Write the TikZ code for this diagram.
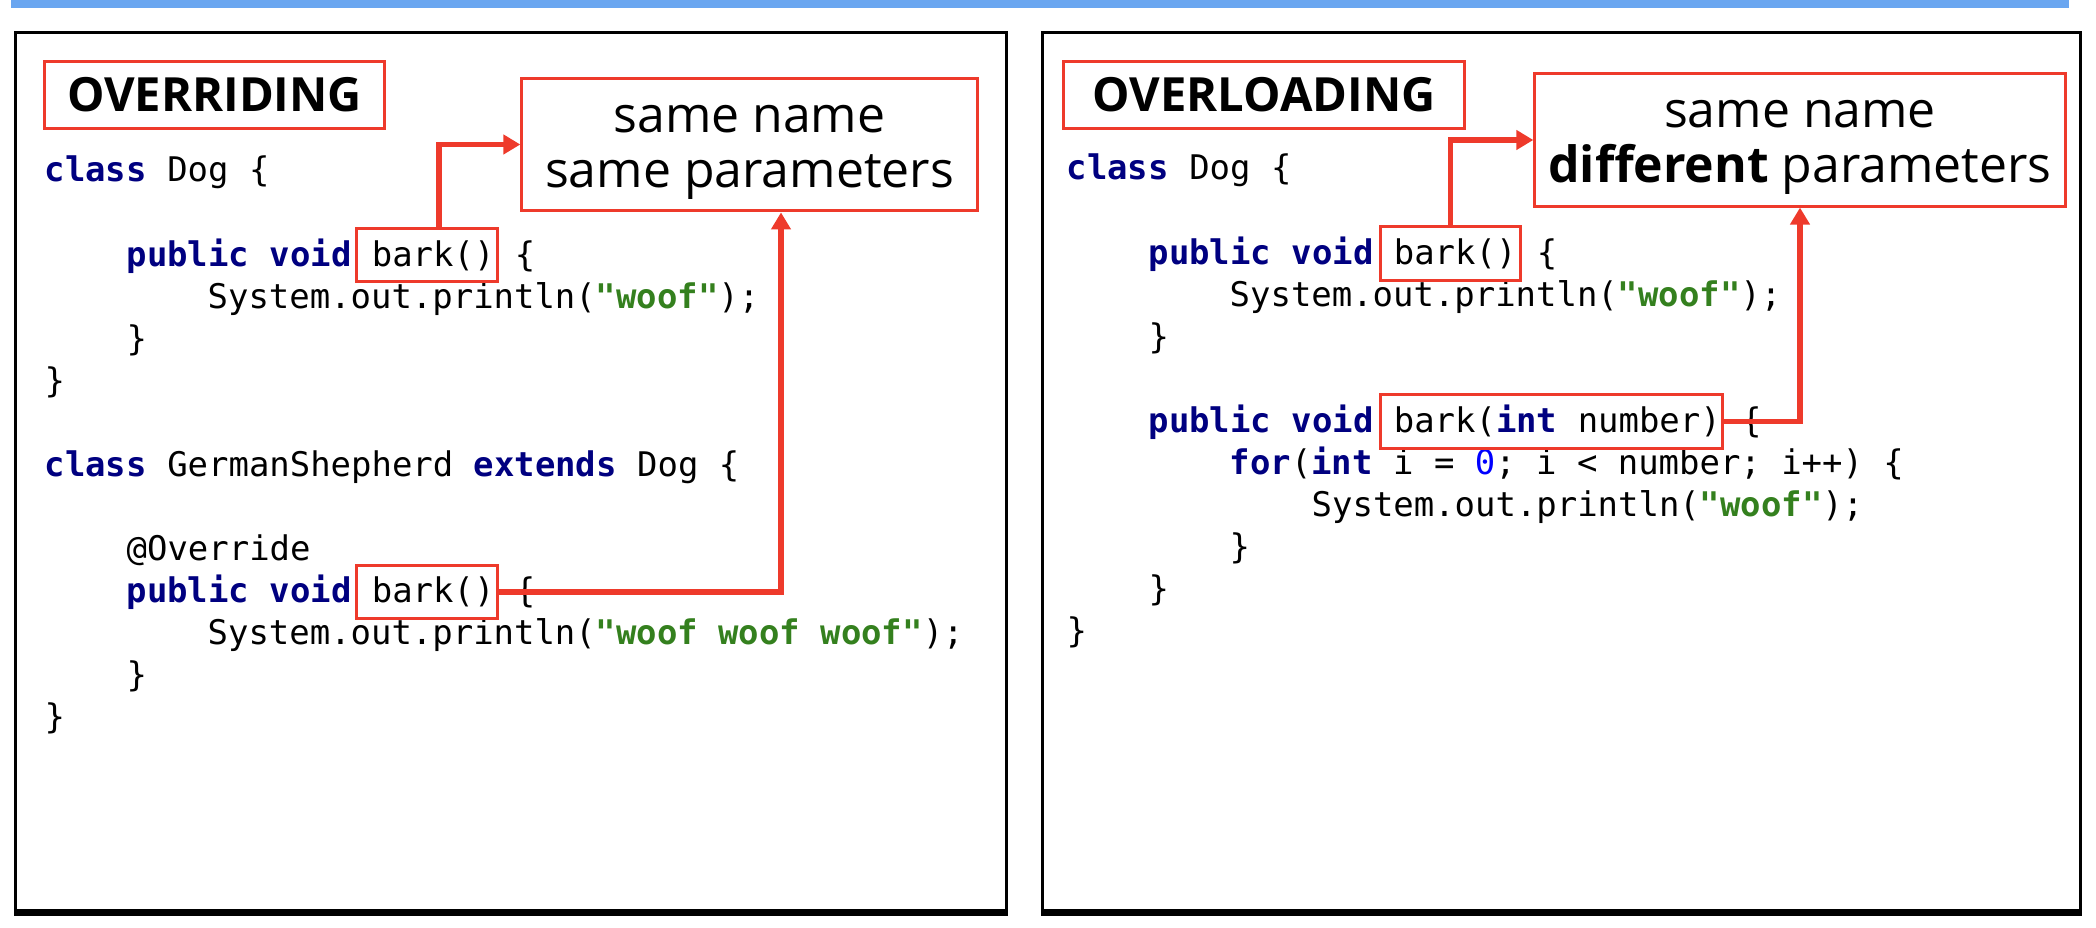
\documentclass[tikz,border=0pt]{standalone}
\usepackage{fontspec}
\setmainfont{Open Sans}
\setmonofont{DejaVu Sans Mono}
\usetikzlibrary{arrows.meta}

\definecolor{hlred}{RGB}{238,58,43}
\definecolor{kwblue}{RGB}{0,0,128}
\definecolor{strgreen}{RGB}{52,128,30}
\definecolor{numblue}{RGB}{0,0,255}
\definecolor{barblue}{RGB}{106,166,240}

\newcommand{\kw}[1]{\textbf{\color{kwblue}#1}}
\newcommand{\jstr}[1]{\textbf{\color{strgreen}#1}}

\tikzset{
  code/.style={anchor=base west, inner sep=0pt, font=\ttfamily\fontsize{9.65}{11}\selectfont},
  hl/.style={draw=hlred, line width=0.85pt, inner sep=0pt},
  titlebox/.style={draw=hlred, line width=0.85pt, font=\bfseries\fontsize{13.4}{16}\selectfont, minimum height=0.66cm},
  rulebox/.style={draw=hlred, line width=0.85pt, align=center, font=\fontsize{14.2}{15.5}\selectfont},
  link/.style={draw=hlred, line width=1.45pt, -{Triangle[length=0.17cm,width=0.19cm]}},
  panel/.style={draw=black, line width=0.85pt, inner sep=0pt}
}

\begin{document}
\begin{tikzpicture}[x=0.01cm,y=-0.01cm]
    \useasboundingbox (0,0) rectangle (2096,928);
    \fill[barblue] (11,0) rectangle (2069,8);
    % panels
    \node[panel, minimum width=9.90cm, minimum height=8.77cm] (leftpanel) at (511,471.5) {};
    \node[panel, minimum width=10.37cm, minimum height=8.77cm] (rightpanel) at (1561.5,471.5) {};
    \draw[line width=1.6pt] ([yshift=-0.5pt]leftpanel.south west) -- ([yshift=-0.5pt]leftpanel.south east);
    \draw[line width=1.6pt] ([yshift=-0.5pt]rightpanel.south west) -- ([yshift=-0.5pt]rightpanel.south east);

    % overriding
    \node[titlebox, minimum width=3.39cm] (titleA) at (214.5,95) {OVERRIDING};
    \node[rulebox, minimum width=4.55cm, minimum height=1.25cm] (ruleA) at (749.5,144.5) {\rule{0pt}{12.2pt}same name\\same parameters};
    \node[code] (a1) at (44,182) {\kw{class} Dog \{};
    \node[code] (a3) at (126,266.2) {\kw{public} \kw{void} bark() \{};
    \node[code] (a4) at (207,308.2) {System.out.println(\jstr{"woof"});};
    \node[code] (a5) at (126,350.3) {\}};
    \node[code] (a6) at (44,392.4) {\}};
    \node[code] (a8) at (44,476.6) {\kw{class} GermanShepherd \kw{extends} Dog \{};
    \node[code] (a10) at (126,560.7) {@Override};
    \node[code] (a11) at (126,602.8) {\kw{public} \kw{void} bark() \{};
    \node[code] (a12) at (207,644.9) {System.out.println(\jstr{"woof woof woof"});};
    \node[code] (a13) at (126,687) {\}};
    \node[code] (a14) at (44,729) {\}};
    \node[hl, minimum width=1.40cm, minimum height=0.52cm] (barkA) at (427,255) {};
    \node[hl, minimum width=1.40cm, minimum height=0.52cm] (barkB) at (427,592) {};
    \coordinate (turnA) at (781,592);
    \draw[link] ([xshift=0.12cm]barkA.north) |- (ruleA.west);
    \draw[link] (barkB.east) -- (turnA) -- (turnA |- ruleA.south);

    % overloading
    \node[titlebox, minimum width=4.00cm] (titleB) at (1264,95) {OVERLOADING};
    \node[rulebox, minimum width=5.30cm, minimum height=1.24cm] (ruleB) at (1800,140) {\rule{0pt}{12pt}same name\\\textbf{different} parameters};
    \node[code] (b1) at (1066,180) {\kw{class} Dog \{};
    \node[code] (b3) at (1148,264.2) {\kw{public} \kw{void} bark() \{};
    \node[code] (b4) at (1229,306.2) {System.out.println(\jstr{"woof"});};
    \node[code] (b5) at (1148,348.3) {\}};
    \node[code] (b7) at (1148,432.5) {\kw{public} \kw{void} bark(\kw{int} number) \{};
    \node[code] (b8) at (1229,474.6) {\kw{for}(\kw{int} i = {\color{numblue}0}; i < number; i++) \{};
    \node[code] (b9) at (1311,516.6) {System.out.println(\jstr{"woof"});};
    \node[code] (b10) at (1229,558.7) {\}};
    \node[code] (b11) at (1148,600.8) {\}};
    \node[code] (b12) at (1066,642.9) {\}};
    \node[hl, minimum width=1.39cm, minimum height=0.53cm] (barkC) at (1450.5,253.5) {};
    \node[hl, minimum width=3.41cm, minimum height=0.53cm] (barkD) at (1551.5,421.5) {};
    \draw[link] (barkC.north) |- (ruleB.west);
    \draw[link] (barkD.east) -| (ruleB.south);
\end{tikzpicture}
\end{document}
